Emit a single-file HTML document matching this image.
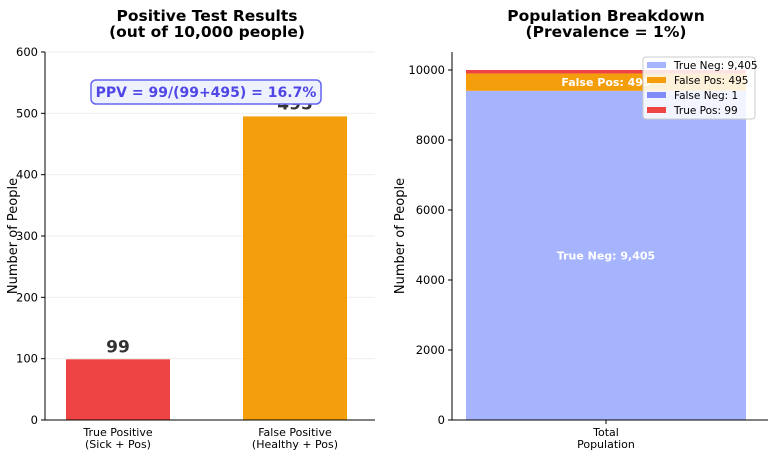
<!DOCTYPE html>
<html><head><meta charset="utf-8"><style>
body{margin:0;background:#fff;font-family:"Liberation Sans","DejaVu Sans",sans-serif}
svg text{font-family:"DejaVu Sans","Liberation Sans",sans-serif}
</style></head><body>
<svg id="c" width="768" height="458" viewBox="0 0 768 458"></svg>
<script>
const leftCats=["True Positive\n(Sick + Pos)","False Positive\n(Healthy + Pos)"];
const leftVals=[99,495];
const leftColors=["#ef4444","#f59e0b"];
const leftTicks=[0,100,200,300,400,500,600];
const rightTicks=[0,2000,4000,6000,8000,10000];
const stackNames=["True Neg","False Pos","False Neg","True Pos"];
const stackVals=[9405,495,1,99];
const stackColors=["#a5b4fc","#f59e0b","#818cf8","#ef4444"];
const S="http://www.w3.org/2000/svg",svg=document.getElementById('c');
function el(t,a,txt,p){const e=document.createElementNS(S,t);for(const k in a)e.setAttribute(k,a[k]);if(txt!=null)e.textContent=txt;(p||svg).appendChild(e);return e;}
const fmt=v=>v.toLocaleString('en-US');
const ly=v=>420-v*(368/600);
leftTicks.forEach(t=>{
 const g=el('line',{x1:45,x2:375,y1:ly(t),y2:ly(t),stroke:'#eee','stroke-width':1});
 
 el('line',{x1:41,x2:45,y1:ly(t),y2:ly(t),stroke:'#000'});
 const tx=el('text',{x:38,y:ly(t)+4,'text-anchor':'end','font-size':11.5},t);
 
});
const lcx=[118,295];
leftVals.forEach((v,i)=>{
 const r=el('rect',{x:lcx[i]-52,y:ly(v),width:104,height:420-ly(v),fill:leftColors[i]});
 
 const t=el('text',{x:lcx[i],y:ly(v)-7,'text-anchor':'middle','font-size':17,'font-weight':'bold',fill:'#333'},v);
 
 leftCats[i].split('\n').forEach((s,j)=>{const c=el('text',{x:lcx[i],y:436+j*12,'text-anchor':'middle','font-size':11},s);
 });
});
el('line',{x1:45,x2:45,y1:52,y2:420,stroke:'#000'});
el('line',{x1:45,x2:375,y1:420,y2:420,stroke:'#000'});
let yt=el('text',{x:0,y:0,transform:'translate(17,236) rotate(-90)','text-anchor':'middle','font-size':13},'Number of People');

let tt=el('text',{x:207,y:21,'text-anchor':'middle','font-size':15.5,'font-weight':'bold'},'Positive Test Results');

el('text',{x:207,y:37,'text-anchor':'middle','font-size':15.5,'font-weight':'bold'},'(out of 10,000 people)');
let pb=el('rect',{x:91,y:80,width:230,height:24,rx:5,fill:'#eef2ff',stroke:'#6366f1','stroke-width':1.5});

el('text',{x:206,y:97,'text-anchor':'middle','font-size':14,'font-weight':'bold',fill:'#4f46e5'},'PPV = 99/(99+495) = 16.7%');
const ry=v=>420-v*(350/10000);
rightTicks.forEach(t=>{
 el('line',{x1:448,x2:452,y1:ry(t),y2:ry(t),stroke:'#000'});
 const tx=el('text',{x:445,y:ry(t)+4,'text-anchor':'end','font-size':11.5},t);
 
});
let base=0;
stackVals.forEach((v,i)=>{
 const r=el('rect',{x:466,y:ry(base+v),width:280,height:ry(base)-ry(base+v),fill:stackColors[i]});
 
 base+=v;
});
let l1=el('text',{x:606,y:ry(stackVals[0]/2)+4,'text-anchor':'middle','font-size':11,'font-weight':'bold',fill:'#fff'},'True Neg: '+fmt(stackVals[0]));

let l2=el('text',{x:606,y:ry(stackVals[0]+stackVals[1]/2)+4,'text-anchor':'middle','font-size':11,'font-weight':'bold',fill:'#fff'},'False Pos: '+fmt(stackVals[1]));

el('line',{x1:452,x2:452,y1:52,y2:420,stroke:'#000'});
el('line',{x1:452,x2:768,y1:420,y2:420,stroke:'#000'});
el('line',{x1:606,x2:606,y1:420,y2:424,stroke:'#000'});
el('text',{x:606,y:436,'text-anchor':'middle','font-size':11},'Total');
el('text',{x:606,y:448,'text-anchor':'middle','font-size':11},'Population');
yt=el('text',{x:0,y:0,transform:'translate(404,236) rotate(-90)','text-anchor':'middle','font-size':13},'Number of People');

tt=el('text',{x:606,y:21,'text-anchor':'middle','font-size':15.5,'font-weight':'bold'},'Population Breakdown');

el('text',{x:606,y:37,'text-anchor':'middle','font-size':15.5,'font-weight':'bold'},'(Prevalence = 1%)');
const lg=el('g',{});

el('rect',{x:643,y:57,width:112,height:62,rx:3,fill:'rgba(255,255,255,0.85)',stroke:'#ccc'},null,lg);
stackNames.forEach((n,i)=>{
 const y=65+i*15;
 el('rect',{x:647,y:y-3,width:19,height:6,fill:stackColors[i]},null,lg);
 const t=el('text',{x:674,y:y+4,'font-size':10.5},n+': '+fmt(stackVals[i]),lg);
 
});
</script>
</body></html>
